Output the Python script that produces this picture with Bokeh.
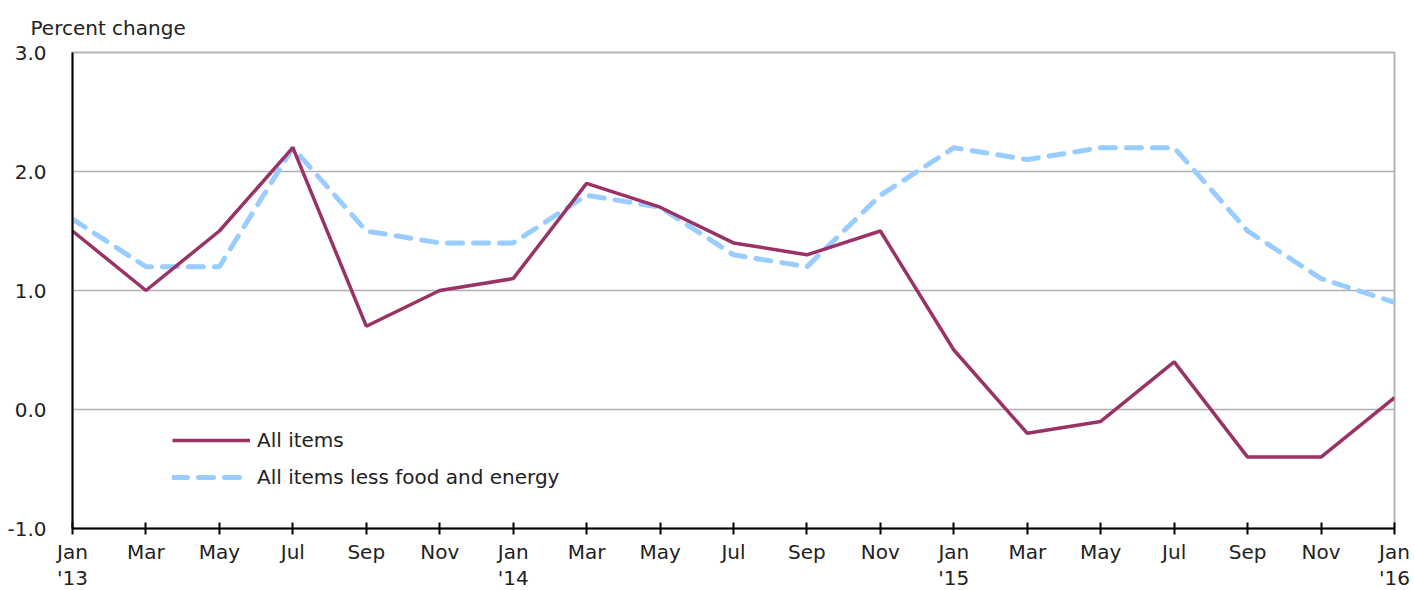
from bokeh.plotting import figure
from bokeh.models import Legend, LegendItem, FixedTicker, Range1d, Label
from bokeh.embed import file_html
from bokeh.resources import INLINE

# ---- data ----
months = ["Jan\n'13", "Mar", "May", "Jul", "Sep", "Nov",
          "Jan\n'14", "Mar", "May", "Jul", "Sep", "Nov",
          "Jan\n'15", "Mar", "May", "Jul", "Sep", "Nov", "Jan\n'16"]
all_items = [1.5, 1.0, 1.5, 2.2, 0.7, 1.0, 1.1, 1.9, 1.7, 1.4, 1.3, 1.5,
             0.5, -0.2, -0.1, 0.4, -0.4, -0.4, 0.1]
core = [1.6, 1.2, 1.2, 2.2, 1.5, 1.4, 1.4, 1.8, 1.7, 1.3, 1.2, 1.8,
        2.2, 2.1, 2.2, 2.2, 1.5, 1.1, 0.9]
y_ticks = [-1.0, 0.0, 1.0, 2.0, 3.0]
series_names = ["All items", "All items less food and energy"]
y_title = "Percent change"

x = list(range(len(months)))
FONT = "DejaVu Sans"
FS = "20px"

p = figure(output_backend="svg", toolbar_location=None,
           frame_width=1322, frame_height=476,
           min_border_left=72, min_border_right=18,
           min_border_top=52, min_border_bottom=60,
           x_range=Range1d(0, len(months) - 1), y_range=Range1d(-1, 3),
           background_fill_color="white", border_fill_color="white")

p.title.text = y_title
p.title.text_font = FONT
p.title.text_font_size = FS
p.title.text_font_style = "normal"
p.title.text_color = "#222222"
p.title.align = "left"
p.title.offset = -42
p.title.standoff = 25

p.outline_line_color = "#b4b4b4"
p.outline_line_width = 2

# axes
p.xaxis.ticker = FixedTicker(ticks=x)
p.xaxis.major_label_overrides = {i: m for i, m in enumerate(months)}
p.xaxis.axis_line_color = "black"
p.xaxis.axis_line_width = 2
p.xaxis.major_tick_in = 6
p.xaxis.major_tick_out = 6
p.xaxis.major_tick_line_width = 2
p.xaxis.major_tick_line_color = "black"
p.xaxis.minor_tick_line_color = None
p.xaxis.major_label_standoff = 5
p.xaxis.major_label_text_font = FONT
p.xaxis.major_label_text_font_size = FS
p.xaxis.major_label_text_color = "#222222"
p.xaxis.major_label_text_line_height = 1.1

p.yaxis.ticker = FixedTicker(ticks=y_ticks)
p.yaxis.major_label_overrides = {v: f"{v:.1f}" for v in y_ticks}
p.yaxis.axis_line_color = "black"
p.yaxis.axis_line_width = 2
p.yaxis.major_tick_line_color = None
p.yaxis.minor_tick_line_color = None
p.yaxis.major_label_standoff = 20
p.yaxis.major_label_text_font = FONT
p.yaxis.major_label_text_font_size = FS
p.yaxis.major_label_text_color = "#222222"

p.xgrid.grid_line_color = None
p.ygrid.grid_line_color = "#b0b0b0"
p.ygrid.grid_line_width = 1.5

r_core = p.line(x, core, line_color="#99ccff", line_width=5,
                line_dash="15 11", line_cap="round")
r_all = p.line(x, all_items, line_color="#993366", line_width=3.5)

legend = Legend(items=[LegendItem(label=series_names[0], renderers=[r_all]),
                       LegendItem(label=series_names[1], renderers=[r_core])],
                location=(100, 39), orientation="vertical",
                glyph_width=78, glyph_height=20, spacing=13,
                label_standoff=7, padding=0, margin=0,
                border_line_color=None, background_fill_alpha=0,
                label_text_font=FONT, label_text_font_size=FS,
                label_text_color="#222222", label_height=20)
p.add_layout(legend, "center")

open("out.html", "w").write(file_html(p, INLINE))
